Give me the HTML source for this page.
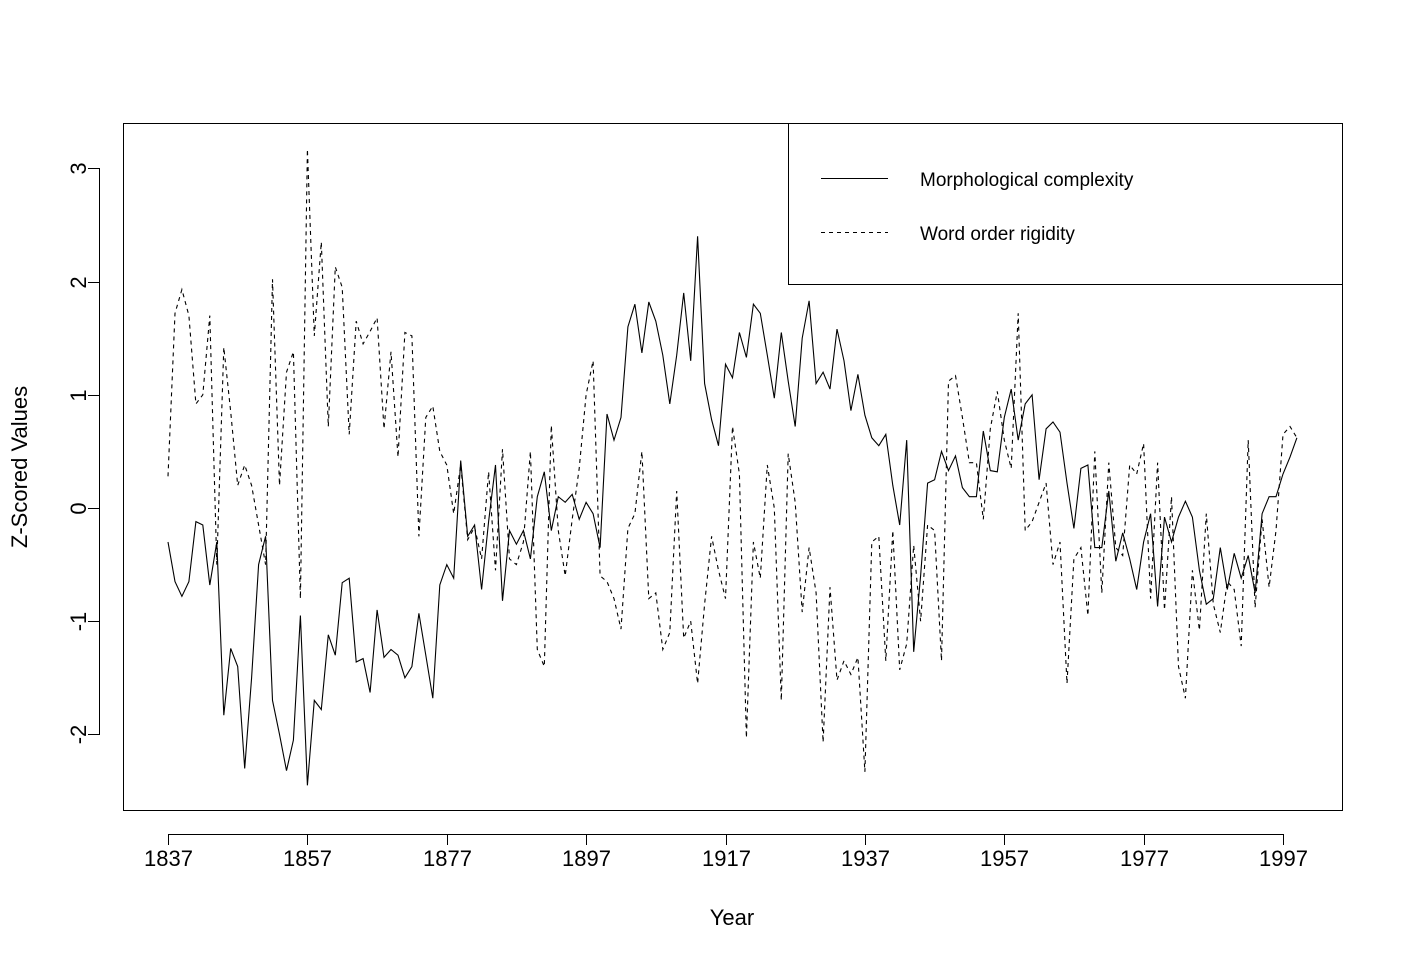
<!DOCTYPE html>
<html><head><meta charset="utf-8"><style>
html,body{margin:0;padding:0;background:#fff}
svg text{font-family:"Liberation Sans",Arial,sans-serif;fill:#000}
</style></head><body>
<svg id="chart" width="1406" height="965" viewBox="0 0 1406 965" xmlns="http://www.w3.org/2000/svg">
<rect x="0" y="0" width="1406" height="965" fill="#fff"/>
<rect x="123.5" y="123.5" width="1219" height="687" fill="none" stroke="#000" stroke-width="1"/>
<g id="xaxis"></g>
<g id="yaxis"></g>
<text x="732" y="925" font-size="22" text-anchor="middle">Year</text>
<text x="27" y="467" font-size="22" text-anchor="middle" transform="rotate(-90 27 467)">Z-Scored Values</text>
<g id="series"></g>
<g>
<rect x="788.5" y="123.5" width="554" height="161" fill="#fff" stroke="#000"/>
<line x1="821" y1="178.5" x2="888" y2="178.5" stroke="#000"/>
<text x="920" y="186" font-size="19">Morphological complexity</text>
<line x1="821" y1="232.5" x2="888" y2="232.5" stroke="#000" stroke-dasharray="4,4"/>
<text x="920" y="240" font-size="19">Word order rigidity</text>
</g>
</svg>
<script>
const startYear = 1837;
const xTicks = [1837,1857,1877,1897,1917,1937,1957,1977,1997];
const yTicks = [-2,-1,0,1,2,3];
const morphology = [-0.3,-0.65,-0.78,-0.65,-0.12,-0.15,-0.68,-0.3,-1.83,-1.24,-1.4,-2.3,-1.5,-0.5,-0.25,-1.7,-2.0,-2.32,-2.05,-0.95,
-2.45,-1.7,-1.78,-1.12,-1.3,-0.66,-0.62,-1.36,-1.33,-1.63,-0.9,-1.32,-1.25,-1.3,-1.5,-1.4,-0.93,-1.3,-1.68,-0.68,
-0.5,-0.62,0.42,-0.25,-0.15,-0.72,-0.12,0.38,-0.82,-0.2,-0.32,-0.2,-0.45,0.1,0.32,-0.2,0.1,0.05,0.12,-0.1,
0.05,-0.05,-0.35,0.83,0.6,0.8,1.6,1.8,1.37,1.82,1.65,1.35,0.92,1.35,1.9,1.3,2.4,1.1,0.78,0.55,
1.27,1.15,1.55,1.33,1.8,1.72,1.35,0.97,1.55,1.12,0.72,1.5,1.83,1.1,1.2,1.05,1.58,1.3,0.86,1.18,
0.82,0.62,0.55,0.65,0.2,-0.15,0.6,-1.27,-0.6,0.22,0.25,0.5,0.33,0.46,0.18,0.1,0.1,0.68,0.33,0.32,
0.8,1.05,0.6,0.92,1.0,0.25,0.7,0.76,0.67,0.22,-0.18,0.35,0.38,-0.35,-0.35,0.15,-0.47,-0.22,-0.45,-0.72,
-0.3,-0.05,-0.87,-0.08,-0.3,-0.08,0.06,-0.08,-0.55,-0.85,-0.8,-0.35,-0.72,-0.4,-0.62,-0.42,-0.75,-0.05,0.1,0.1,
0.3,0.45,0.62];
const wordOrder = [0.28,1.72,1.93,1.7,0.92,1.0,1.7,-0.5,1.42,0.85,0.2,0.38,0.2,-0.15,-0.5,2.02,0.2,1.2,1.38,-0.8,
3.17,1.52,2.35,0.72,2.13,1.95,0.65,1.65,1.45,1.56,1.68,0.7,1.38,0.45,1.55,1.52,-0.25,0.8,0.9,0.5,
0.38,-0.05,0.38,-0.28,-0.17,-0.45,0.32,-0.55,0.52,-0.45,-0.5,-0.3,0.5,-1.25,-1.4,0.73,-0.2,-0.6,-0.1,0.35,
1.0,1.3,-0.6,-0.65,-0.8,-1.07,-0.18,-0.05,0.5,-0.8,-0.75,-1.25,-1.1,0.15,-1.15,-1.0,-1.55,-0.85,
-0.25,-0.55,-0.8,0.72,0.3,-2.03,-0.3,-0.62,0.38,0.0,-1.7,0.48,0.05,-0.92,-0.35,-0.75,-2.07,-0.7,-1.52,-1.35,
-1.47,-1.32,-2.33,-0.3,-0.25,-1.35,-0.2,-1.43,-1.2,-0.33,-1.0,-0.15,-0.2,-1.35,1.12,1.17,0.8,0.4,0.4,-0.1,
0.7,1.03,0.6,0.35,1.72,-0.2,-0.12,0.05,0.22,-0.5,-0.3,-1.55,-0.45,-0.35,-0.95,0.5,-0.75,0.4,-0.35,
-0.42,0.38,0.3,0.57,-0.8,0.4,-0.9,0.1,-1.4,-1.68,-0.55,-1.08,-0.05,-0.85,-1.1,-0.65,-0.72,-1.22,0.6,-0.88,
-0.1,-0.7,-0.2,0.65,0.72,0.62];

const NS='http://www.w3.org/2000/svg';
function xScale(year){ return 168 + (year-1837)*(1283-168)/160; }
function yScale(v){ return 508 - v*113.2; }
function mk(tag, attrs, parent){ const e=document.createElementNS(NS,tag); for(const k in attrs) e.setAttribute(k,attrs[k]); parent.appendChild(e); return e; }

const xa=document.getElementById('xaxis');
const xl=mk('line',{x1:xScale(xTicks[0]),x2:xScale(xTicks[xTicks.length-1]),y1:834.5,y2:834.5,stroke:'#000'},xa);


xTicks.forEach(t=>{
  const x=Math.round(xScale(t))+0.5;
  const tk=mk('line',{x1:x,x2:x,y1:834,y2:845,stroke:'#000'},xa);
  
  
  const tx=mk('text',{x:x,y:866,'font-size':22,'text-anchor':'middle'},xa);
  
  
  tx.textContent=t;
});
const ya=document.getElementById('yaxis');
const yl=mk('line',{x1:99.5,x2:99.5,y1:yScale(yTicks[0]),y2:yScale(yTicks[yTicks.length-1]),stroke:'#000'},ya);


yTicks.forEach(t=>{
  const y=Math.round(yScale(t))+0.5;
  const tk=mk('line',{x1:88,x2:100,y1:y,y2:y,stroke:'#000'},ya);
  
  
  const tx=mk('text',{x:86,y:y,'font-size':22,'text-anchor':'middle',transform:'rotate(-90 86 '+y+')'},ya);
  
  
  tx.textContent=t;
});
const sg=document.getElementById('series');
function pts(arr){ return arr.map((v,i)=>xScale(startYear+i).toFixed(1)+','+yScale(v).toFixed(1)).join(' '); }
const p1=mk('polyline',{points:pts(morphology),fill:'none',stroke:'#000','stroke-width':1.1},sg);


const p2=mk('polyline',{points:pts(wordOrder),fill:'none',stroke:'#000','stroke-width':1.1,'stroke-dasharray':'4,4'},sg);


</script>
</body></html>
